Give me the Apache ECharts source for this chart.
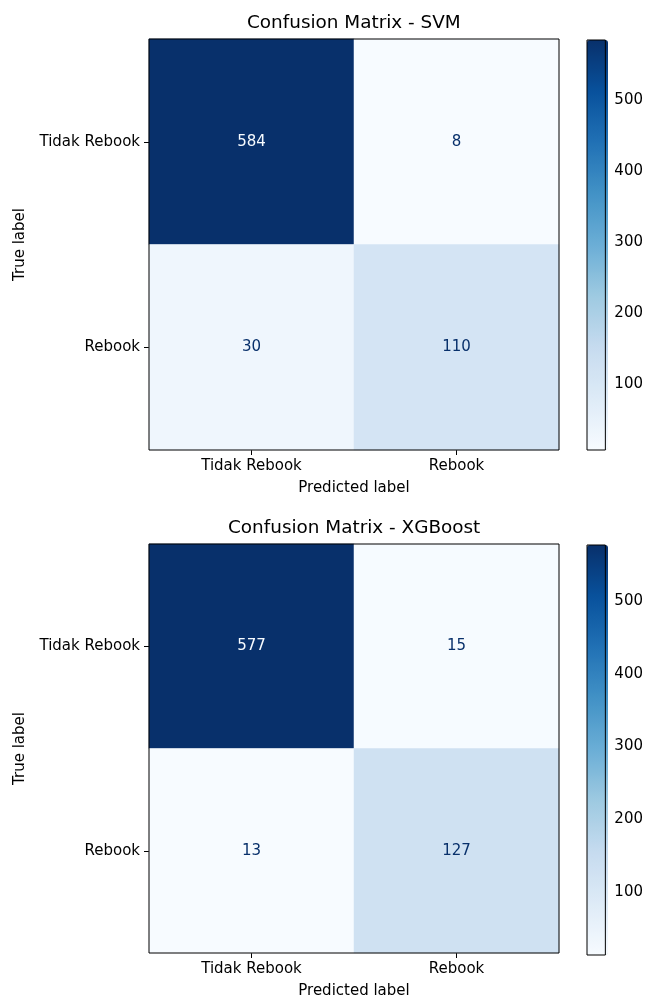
<!DOCTYPE html>
<html>
<head>
<meta charset="utf-8">
<script src="https://cdn.jsdelivr.net/npm/echarts@6/dist/echarts.min.js"></script>
<style>html,body{margin:0;padding:0;background:#fff;}#c{width:646px;height:1000px;}</style>
</head>
<body>
<div id="c"></div>
<script>
const categories = ["Tidak Rebook", "Rebook"];
const titles = ["Confusion Matrix - SVM", "Confusion Matrix - XGBoost"];
// rows = true label, cols = predicted label
const svmMatrix = [[584, 8], [30, 110]];
const xgbMatrix = [[577, 15], [13, 127]];
const colorbarTicks = [100, 200, 300, 400, 500];
const blues = ['#f7fbff','#deebf7','#c6dbef','#9ecae1','#6baed6','#4292c6','#2171b5','#08519c','#08306b'];

const FONT = 'DejaVu Sans';
const FS = 15;
const matrices = [svmMatrix, xgbMatrix];
const tops = [39, 544];
const H = 411, L = 149, W = 410, CBL = 587, CBW = 21;

const option = {
  animation: false,
  textStyle: { fontFamily: FONT },
  title: [], grid: [], xAxis: [], yAxis: [], series: [], visualMap: []
};

const measureCtx = document.createElement('canvas').getContext('2d');

matrices.forEach((m, i) => {
  const flat = m.flat();
  const mn = Math.min(...flat), mx = Math.max(...flat);
  const thresh = (mn + mx) / 2;
  const top = tops[i];
  const titleFS = 18.4;
  measureCtx.font = titleFS + 'px "' + FONT + '"';
  const tw = measureCtx.measureText(titles[i]).width;
  option.title.push({
    text: titles[i], left: Math.round(L + W / 2 - tw / 2), top: top - 25, padding: 0,
    textStyle: { fontFamily: FONT, fontSize: titleFS, fontWeight: 'normal', color: '#000' }
  });
  option.grid.push({ left: L, top: top, width: W, height: H, show: true, z: 5,
    borderColor: '#000', borderWidth: 1, backgroundColor: 'transparent' });
  option.grid.push({ left: CBL, top: top + 1, width: CBW, height: H - 1, show: true, z: 5,
    borderColor: '#000', borderWidth: 1, backgroundColor: 'transparent' });
  const gm = i * 2, gc = i * 2 + 1;
  option.xAxis.push({
    type: 'category', gridIndex: gm, data: categories, name: 'Predicted label',
    nameLocation: 'middle', nameGap: 31,
    nameTextStyle: { fontFamily: FONT, fontSize: FS, color: '#000' },
    axisLine: { show: false },
    axisTick: { show: true, alignWithLabel: true, length: 5, lineStyle: { color: '#000' } },
    axisLabel: { fontFamily: FONT, fontSize: FS, color: '#000', margin: 9 },
    splitLine: { show: false }
  });
  option.yAxis.push({
    type: 'category', gridIndex: gm, data: categories, inverse: true, name: 'True label',
    nameLocation: 'middle', nameGap: 121, nameRotate: 90,
    nameTextStyle: { fontFamily: FONT, fontSize: FS, color: '#000' },
    axisLine: { show: false },
    axisTick: { show: true, alignWithLabel: true, length: 5, lineStyle: { color: '#000' } },
    axisLabel: { fontFamily: FONT, fontSize: FS, color: '#000', margin: 9 },
    splitLine: { show: false }
  });
  option.xAxis.push({ type: 'value', gridIndex: gc, min: 0, max: 1, show: false });
  option.yAxis.push({
    type: 'value', gridIndex: gc, min: mn, max: mx, position: 'right',
    axisLine: { show: false },
    axisTick: { show: true, length: 5, customValues: colorbarTicks, lineStyle: { color: '#000' } },
    axisLabel: { fontFamily: FONT, fontSize: FS, color: '#000', margin: 9, customValues: colorbarTicks },
    splitLine: { show: false }
  });
  const data = [];
  m.forEach((row, r) => row.forEach((v, c) => {
    data.push({ value: [c, r, v], label: { color: v > thresh ? '#f7fbff' : '#08306b' } });
  }));
  option.series.push({
    type: 'heatmap', xAxisIndex: gm, yAxisIndex: gm, data: data,
    label: { show: true, fontFamily: FONT, fontSize: FS },
    itemStyle: { borderWidth: 0 },
    emphasis: { disabled: true }
  });
  option.visualMap.push({
    type: 'continuous', seriesIndex: i, min: mn, max: mx,
    left: CBL, top: top + 1, itemWidth: CBW, itemHeight: H - 1, padding: 0,
    calculable: false, showLabel: false, text: null, hoverLink: false,
    inRange: { color: blues }
  });
});

const chart = echarts.init(document.getElementById('c'), null, { renderer: 'canvas' });
chart.setOption(option);
</script>
</body>
</html>
